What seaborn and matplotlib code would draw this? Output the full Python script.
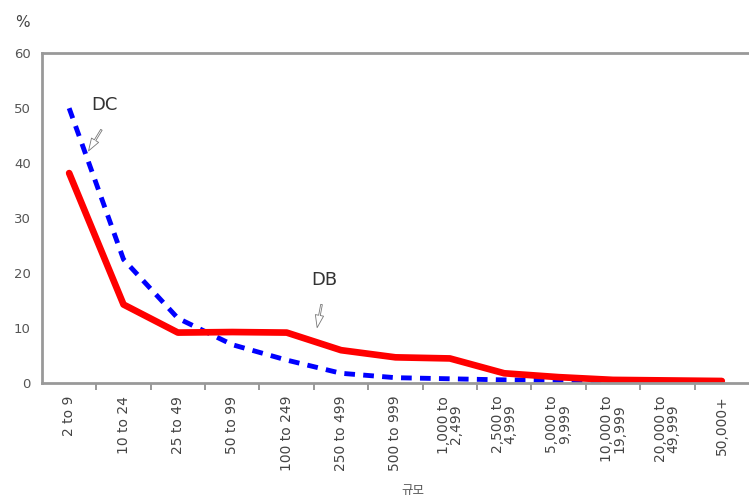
import pandas as pd
import numpy as np
import matplotlib.pyplot as plt
import seaborn as sns

categories = ["2 to 9", "10 to 24", "25 to 49", "50 to 99", "100 to 249",
              "250 to 499", "500 to 999", "1,000 to\n2,499", "2,500 to\n4,999",
              "5,000 to\n9,999", "10,000 to\n19,999", "20,000 to\n49,999", "50,000+"]
db_values = [38.2, 14.3, 9.2, 9.3, 9.2, 6.0, 4.7, 4.5, 1.8, 1.1, 0.6, 0.5, 0.4]
dc_values = [50.0, 22.5, 11.8, 7.0, 4.2, 1.8, 1.0, 0.8, 0.6, 0.5, 0.4, 0.3, 0.2]
y_ticks = [0, 10, 20, 30, 40, 50, 60]

df = pd.DataFrame({
    "pos": np.arange(len(categories)),
    "DB": db_values,
    "DC": dc_values,
})

sns.set_style("white")
plt.rcParams['font.family'] = ['DejaVu Sans', 'Noto Sans CJK KR']

fig = plt.figure(figsize=(7.49, 4.97), dpi=100)
ax = fig.add_axes([0.056, 0.229, 0.944, 0.664])

sns.lineplot(data=df, x="pos", y="DC", ax=ax, color="#0000ff", linewidth=3.5,
             dashes=False, linestyle=(0, (2.2, 1.7)))
sns.lineplot(data=df, x="pos", y="DB", ax=ax, color="#ff0000", linewidth=4.8)

ax.set_xlim(-0.5, len(categories) - 0.5)
ax.set_ylim(0, 60)
ax.set_yticks(y_ticks)
ax.set_yticklabels([str(t) for t in y_ticks], fontsize=9.5, color="#555555")
ax.set_xticks(df["pos"])
ax.set_xticklabels(categories, rotation=90, fontsize=10, color="#444444",
                   va="top", ha="center", linespacing=0.85)
ax.set_xticks(np.arange(0.5, len(categories) - 1, 1), minor=True)
ax.tick_params(axis="x", which="major", length=0, pad=9)
ax.tick_params(axis="x", which="minor", length=5, width=1.2, color="#888888", bottom=True)
ax.tick_params(axis="y", length=0, pad=8)

for side in ["left", "top", "bottom"]:
    ax.spines[side].set_color("#999999")
    ax.spines[side].set_linewidth(2)
ax.spines["right"].set_visible(False)

ax.set_ylabel("")
ax.set_xlabel("규모", fontsize=9, color="#555555", family=['Noto Sans CJK KR', 'DejaVu Sans'])
ax.xaxis.set_label_coords(0.525, -0.305)

fig.text(0.03, 0.955, "%", fontsize=11, color="#444444", ha="center", va="center")

arrow = dict(arrowstyle="simple,head_width=0.6,head_length=0.9,tail_width=0.12",
             fc="white", ec="#777777", lw=0.6)
ax.annotate("", xy=(0.33, 41.8), xytext=(0.62, 46.5), arrowprops=arrow)
ax.text(0.64, 50.5, "DC", fontsize=13, color="#333333", ha="center", va="center")
ax.annotate("", xy=(4.55, 9.6), xytext=(4.65, 14.8), arrowprops=arrow)
ax.text(4.70, 18.8, "DB", fontsize=13, color="#333333", ha="center", va="center")

plt.savefig("out.png", dpi=100)
